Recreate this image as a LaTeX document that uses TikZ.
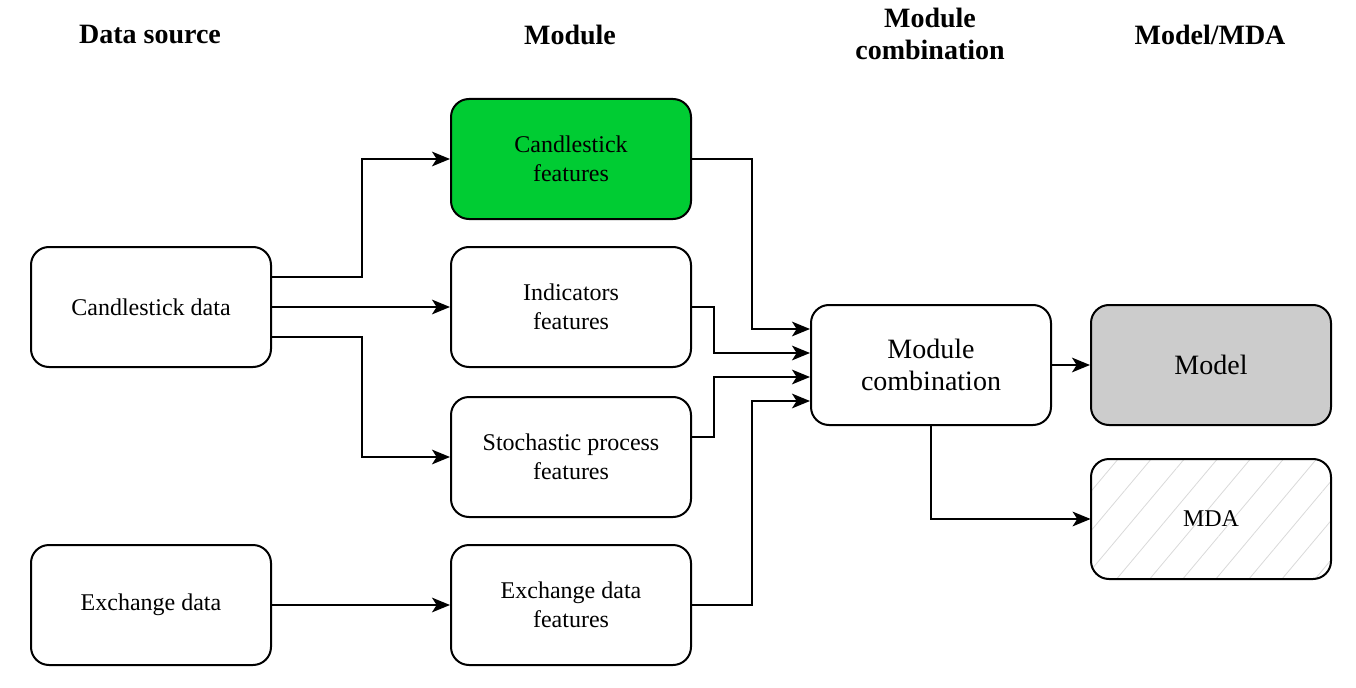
\documentclass[tikz,border=0pt]{standalone}
\usepackage{fontspec}
\setmainfont{Liberation Serif}
\usetikzlibrary{arrows.meta,patterns.meta}

\begin{document}
\begin{tikzpicture}[x=0.75pt,y=-0.75pt,
    box/.style={rectangle,draw,line width=1.5pt,rounded corners=13.5pt,
      minimum width=180pt,minimum height=90pt,align=center,
      font=\fontsize{18}{21.6}\selectfont},
    bigbox/.style={box,font=\fontsize{21}{24}\selectfont},
    head/.style={align=center,font=\fontsize{21}{24}\selectfont\bfseries},
    arr/.style={line width=1.5pt,-{Stealth[length=13.5pt,width=11pt,inset=3.5pt]}}]
  \useasboundingbox (0,0) rectangle (1356,688);

  \node[head] (h1) at (150,35) {Data source};
  \node[head] (h2) at (570,35) {Module};
  \node[head] (h3) at (930,34) {Module\\combination};
  \node[head] (h4) at (1210,35) {Model/MDA};

  \node[box] (cd) at (151,307) {Candlestick data};
  \node[box] (ed) at (151,605) {Exchange data};
  \node[box,fill={rgb,255:red,0;green,204;blue,51}] (cf) at (571,159) {Candlestick\\features};
  \node[box] (if) at (571,307) {Indicators\\features};
  \node[box] (sf) at (571,457) {Stochastic process\\features};
  \node[box] (ef) at (571,605) {Exchange data\\features};
  \node[bigbox] (mc) at (931,365) {Module\\combination};
  \node[bigbox,fill={rgb,255:red,204;green,204;blue,204}] (md) at (1211,365) {Model};
  \node[box,pattern={Lines[angle=50,distance=19pt,line width=0.6pt]},
    pattern color=black!15] (mda) at (1211,519) {};
  \node[box,draw=none] (mdat) at (1211,519) {MDA};

  \draw[arr] ([yshift=22.5pt]cd.east) -- ++(67.5pt,0) |- (cf.west);
  \draw[arr] (cd) -- (if);
  \draw[arr] ([yshift=-22.5pt]cd.east) -- ++(67.5pt,0) |- (sf.west);
  \draw[arr] (ed) -- (ef);
  \draw[arr] (cf.east) -- ++(45pt,0) |- ([yshift=27pt]mc.west);
  \draw[arr] (if.east) -- ++(16.5pt,0) |- ([yshift=9pt]mc.west);
  \draw[arr] ([yshift=15pt]sf.east) -- ++(16.5pt,0) |- ([yshift=-9pt]mc.west);
  \draw[arr] (ef.east) -- ++(45pt,0) |- ([yshift=-27pt]mc.west);
  \draw[arr] (mc) -- (md);
  \draw[arr] (mc.south) |- (mda.west);
\end{tikzpicture}
\end{document}
